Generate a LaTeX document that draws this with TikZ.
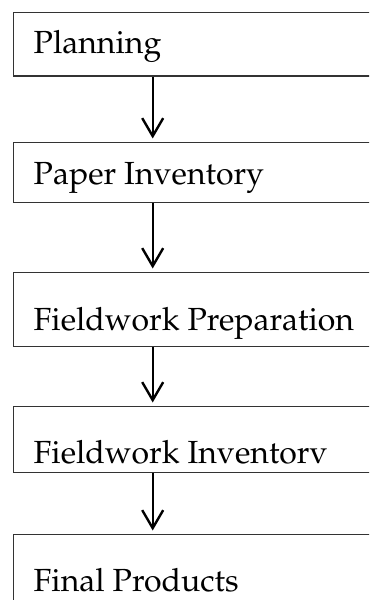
\documentclass[tikz,border=0pt]{standalone}
\usepackage[T1]{fontenc}
\usepackage{mathpazo}
\usetikzlibrary{arrows.meta,calc}
\begin{document}
\begin{tikzpicture}[x=1bp,y=-1bp,
  stage/.style={draw=black!80, line width=1.3bp, rectangle, anchor=north west,
    minimum width=380bp, inner sep=0pt},
  steptext/.style={anchor=base west, inner sep=0pt,
    font=\fontsize{32bp}{38bp}\selectfont},
  flow/.style={line width=2.4bp,
    -{Straight Barb[length=18bp,width=21bp,line width=2.4bp]}}
]
\useasboundingbox (0,0) rectangle (369,600);
\clip (0,0) rectangle (369,600);

% stage boxes (open to the right, last one runs off the bottom)
\node[stage, minimum height=63.5bp] (b1) at (13,12) {};
\node[stage, minimum height=59.7bp] (b2) at (13,142) {};
\node[stage, minimum height=73.7bp] (b3) at (13,272) {};
\node[stage, minimum height=65.5bp] (b4) at (13,406) {};
\node[stage, minimum height=90bp]   (b5) at (13,534) {};

% stage names
\node[steptext] (t1) at (33.5,53.3)  {Planning};
\node[steptext] (t2) at (33.5,184)   {Paper Inventory};
\node[steptext] (t3) at (33.5,330)   {Fieldwork Preparation};
\node[steptext] (t4) at (33.5,463.5) {Fieldwork Inventorv};
\node[steptext] (t5) at (33.5,591)   {Final Products};

% flow between stages
\coordinate (ax) at (152.7,0);
\draw[flow] (b1.south west -| ax) -- ($(b2.north west -| ax)+(0,-3.5)$);
\draw[flow] (b2.south west -| ax) -- ($(b3.north west -| ax)+(0,-3.5)$);
\draw[flow] (b3.south west -| ax) -- ($(b4.north west -| ax)+(0,-3.5)$);
\draw[flow] (b4.south west -| ax) -- ($(b5.north west -| ax)+(0,-3.5)$);
\end{tikzpicture}
\end{document}
